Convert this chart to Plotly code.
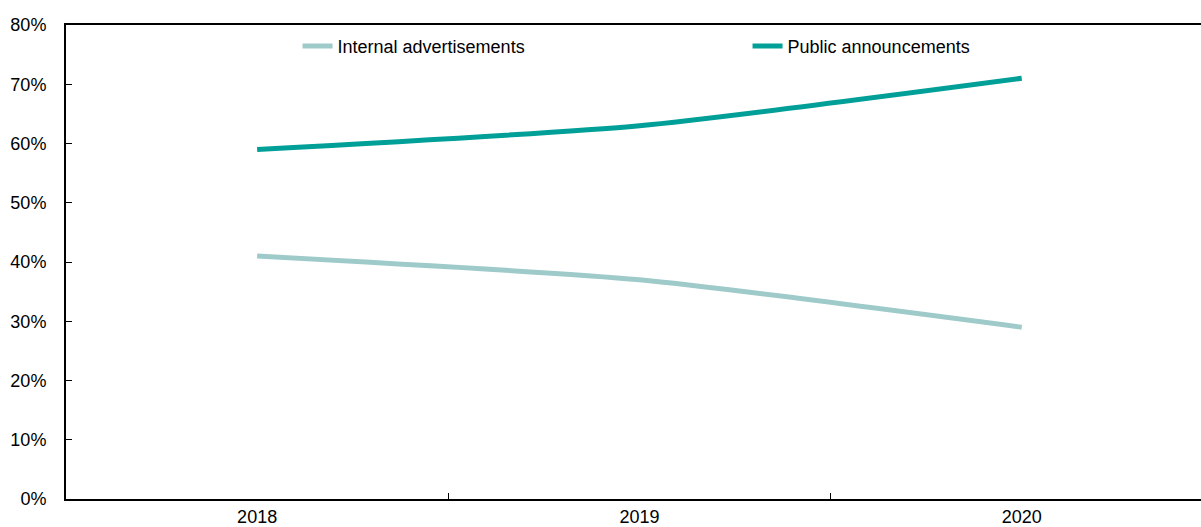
import plotly.graph_objects as go

years = ["2018", "2019", "2020"]
internal_ads = [41, 37, 29]
public_ann = [59, 63, 71]
y_ticks = [0, 10, 20, 30, 40, 50, 60, 70, 80]
y_labels = [f"{v}%" for v in y_ticks]

FONT = "Liberation Sans, Arial, sans-serif"
FSIZE = 18

fig = go.Figure()
fig.add_trace(go.Scatter(
    x=years, y=internal_ads, name="Internal advertisements", mode="lines",
    line=dict(color="#9FCACA", width=5, shape="spline", smoothing=0.6),
))
fig.add_trace(go.Scatter(
    x=years, y=public_ann, name="Public announcements", mode="lines",
    line=dict(color="#009F98", width=5, shape="spline", smoothing=0.6),
))

fig.update_layout(
    width=1201, height=527,
    margin=dict(l=66, r=0, t=25, b=28),
    paper_bgcolor="white", plot_bgcolor="white",
    font=dict(family=FONT, size=FSIZE, color="black"),
    showlegend=True,
    legend=dict(
        orientation="h", x=0.204, xanchor="left", y=0.955, yanchor="middle",
        entrywidth=405, entrywidthmode="pixels",
        bgcolor="rgba(0,0,0,0)", font=dict(family=FONT, size=FSIZE),
    ),
    xaxis=dict(
        type="category", range=[-0.5, 2.469],
        showline=True, linecolor="black", linewidth=2, mirror=True,
        ticks="inside", tickson="boundaries", ticklen=6, tickwidth=1, tickcolor="black",
        showgrid=False, zeroline=False,
        tickfont=dict(family=FONT, size=FSIZE),
    ),
    yaxis=dict(
        range=[0, 80], tickvals=y_ticks, ticktext=y_labels,
        showline=True, linecolor="black", linewidth=2,
        ticks="inside", ticklen=6, tickwidth=1, tickcolor="black",
        ticklabelstandoff=14,
        showgrid=False, zeroline=False,
        tickfont=dict(family=FONT, size=FSIZE),
    ),
)

fig.write_html("out.html")
